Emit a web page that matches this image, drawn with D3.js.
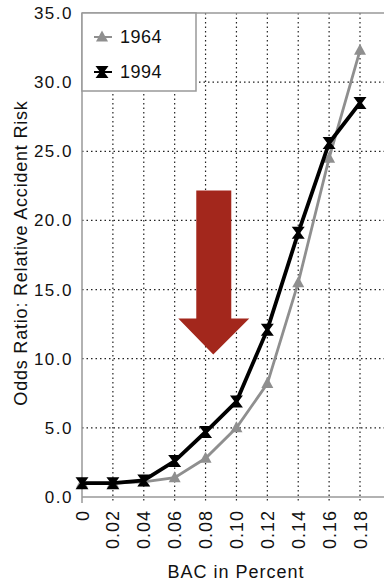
<!DOCTYPE html>
<html>
<head>
  <meta charset="utf-8">
  <script src="https://d3js.org/d3.v7.min.js"></script>
  <style>
    body { margin: 0; background: #fff; }
    text { font-family: "Liberation Sans", Arial, sans-serif; fill: #111; }
    .grid line { stroke: #222; stroke-dasharray: 1.5 3; stroke-width: 1.2; }
  </style>
</head>
<body>
  <svg width="384" height="584"></svg>
  <script>
    var bac = [0, 0.02, 0.04, 0.06, 0.08, 0.10, 0.12, 0.14, 0.16, 0.18];
    var xLabels = ["0", "0.02", "0.04", "0.06", "0.08", "0.10", "0.12", "0.14", "0.16", "0.18"];
    var risk1964 = [1.0, 1.0, 1.1, 1.4, 2.8, 5.0, 8.2, 15.5, 24.5, 32.3];
    var risk1994 = [1.0, 1.0, 1.2, 2.6, 4.7, 6.9, 12.1, 19.1, 25.6, 28.5];
    var yTicks = [0, 5, 10, 15, 20, 25, 30, 35];

    var svg = d3.select("svg");
    var pLeft = 82, pRight = 384, pTop = 13, pBottom = 497;

    var x = d3.scaleLinear().domain([0, 0.18]).range([pLeft, 360]);
    var y = d3.scaleLinear().domain([0, 35]).range([pBottom, pTop]);

    // grid
    var grid = svg.append("g").attr("class", "grid");
    grid.selectAll(".v").data(bac.slice(1)).enter().append("line")
      .attr("x1", d => x(d)).attr("x2", d => x(d))
      .attr("y1", pTop).attr("y2", pBottom + 6);
    grid.selectAll(".h").data(yTicks.slice(1, -1)).enter().append("line")
      .attr("x1", pLeft).attr("x2", pRight)
      .attr("y1", d => y(d)).attr("y2", d => y(d));

    // frame
    svg.append("line").attr("x1", pLeft).attr("x2", pLeft).attr("y1", pTop).attr("y2", pBottom + 6)
      .attr("stroke", "#999").attr("stroke-width", 1.5);
    svg.append("line").attr("x1", pLeft).attr("x2", pRight).attr("y1", pTop).attr("y2", pTop)
      .attr("stroke", "#999").attr("stroke-width", 1.5);
    svg.append("line").attr("x1", pLeft).attr("x2", pRight).attr("y1", pBottom).attr("y2", pBottom)
      .attr("stroke", "#999").attr("stroke-width", 1.5);

    // y tick labels
    svg.selectAll(".yl").data(yTicks).enter().append("text")
      .attr("x", 73).attr("y", d => y(d)).attr("dy", "0.35em")
      .attr("text-anchor", "end").style("font-size", "17px").style("letter-spacing", "1.5px")
      .text(d => d.toFixed(1));

    // x tick labels, rotated
    svg.selectAll(".xl").data(bac).enter().append("text")
      .attr("transform", (d, i) => "translate(" + (x(d) + 6.5) + "," + (pBottom + 13) + ") rotate(-90)")
      .attr("text-anchor", "end").style("font-size", "18px").style("letter-spacing", "1px")
      .text((d, i) => xLabels[i]);

    // axis titles
    svg.append("text").attr("x", 236).attr("y", 578).attr("text-anchor", "middle")
      .style("font-size", "18px").style("letter-spacing", "1px").text("BAC in Percent");
    svg.append("text").attr("transform", "translate(27,253) rotate(-90)")
      .attr("text-anchor", "middle").style("font-size", "18px").style("letter-spacing", "0.8px")
      .text("Odds Ratio: Relative Accident Risk");

    var line = d3.line().x((d, i) => x(bac[i])).y(d => y(d));
    var tri = "M0,-6.5L6,4.5L-6,4.5Z";
    var hour = "M-6.5,-6L6.5,-6L2,0L6.5,6L-6.5,6L-2,0Z";

    svg.append("path").datum(risk1964).attr("d", line)
      .attr("fill", "none").attr("stroke", "#8f8f8f").attr("stroke-width", 2.8);
    svg.selectAll(".m64").data(risk1964).enter().append("path")
      .attr("d", tri).attr("fill", "#8f8f8f")
      .attr("transform", (d, i) => "translate(" + x(bac[i]) + "," + y(d) + ")");

    svg.append("path").datum(risk1994).attr("d", line)
      .attr("fill", "none").attr("stroke", "#000").attr("stroke-width", 3.8);
    svg.selectAll(".m94").data(risk1994).enter().append("path")
      .attr("d", hour).attr("fill", "#000")
      .attr("transform", (d, i) => "translate(" + x(bac[i]) + "," + y(d) + ")");

    // legend
    var lg = svg.append("g");
    lg.append("rect").attr("x", pLeft).attr("y", pTop).attr("width", 114).attr("height", 78)
      .attr("fill", "#fff").attr("stroke", "#999").attr("stroke-width", 1.5);
    var items = [{ label: "1964", c: "#8f8f8f", w: 2, m: tri, ly: 37 }, { label: "1994", c: "#000", w: 2, m: hour, ly: 72 }];
    items.forEach(function (it) {
      lg.append("line").attr("x1", 94).attr("x2", 112).attr("y1", it.ly).attr("y2", it.ly)
        .attr("stroke", it.c).attr("stroke-width", it.w);
      lg.append("path").attr("d", it.m).attr("fill", it.c)
        .attr("transform", "translate(102," + it.ly + ")");
      lg.append("text").attr("x", 120).attr("y", it.ly).attr("dy", "0.36em")
        .style("font-size", "18px").style("letter-spacing", "0.5px").text(it.label);
    });

    // red arrow annotation
    var ax = x(0.085), tipY = y(10.3);
    var arrow = [[ax - 17, tipY - 164], [ax + 18, tipY - 164], [ax + 18, tipY - 36], [ax + 36, tipY - 36],
      [ax, tipY], [ax - 35, tipY - 36], [ax - 17, tipY - 36]];
    svg.append("path").attr("d", d3.line()(arrow) + "Z").attr("fill", "#a3271c");
  </script>
</body>
</html>
